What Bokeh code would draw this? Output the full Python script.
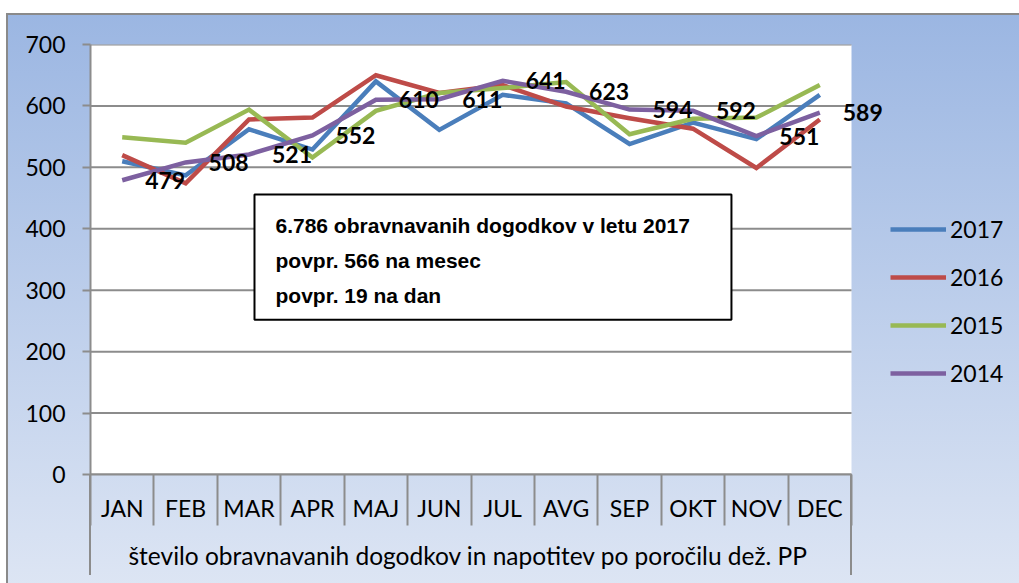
from bokeh.plotting import figure
from bokeh.models import (Range1d, FixedTicker, ColumnDataSource, LabelSet, Label,
                          BoxAnnotation, Legend, LegendItem, Title)
from bokeh.core.properties import value
from bokeh.embed import file_html
from bokeh.resources import INLINE

months = ["JAN", "FEB", "MAR", "APR", "MAJ", "JUN", "JUL", "AVG", "SEP", "OKT", "NOV", "DEC"]
y2017 = [510, 487, 562, 529, 640, 561, 618, 604, 538, 573, 546, 618]
y2016 = [520, 474, 578, 581, 650, 621, 634, 599, 580, 563, 499, 578]
y2015 = [549, 540, 594, 516, 592, 621, 629, 639, 554, 579, 581, 634]
y2014 = [479, 508, 521, 552, 610, 611, 641, 623, 594, 592, 551, 589]
series_names = ["2017", "2016", "2015", "2014"]
series_colors = ["#4a7ebb", "#be4b48", "#98b954", "#7d60a0"]
y_ticks = [0, 100, 200, 300, 400, 500, 600, 700]
group_label = "število obravnavanih dogodkov in napotitev po poročilu dež. PP"
box_lines = ["6.786 obravnavanih dogodkov v letu 2017",
             "povpr. 566 na mesec",
             "povpr. 19 na dan"]

xs = list(range(1, len(months) + 1))
x_lo, x_hi = 0.5, len(months) + 0.5
unit_px = 761 / len(months)

FONT = "Lato"
FS = "23px"

p = figure(frame_width=929, frame_height=430,
           x_range=Range1d(x_lo, x_lo + 929 / unit_px), y_range=Range1d(0, 700),
           output_backend="svg", toolbar_location=None,
           min_border_left=90, min_border_top=44, min_border_right=0, min_border_bottom=109)

p.background_fill_alpha = 0
p.border_fill_alpha = 0
p.outline_line_color = None
p.styles = {
    "background": (
        "linear-gradient(#8c8c8c,#8c8c8c) 89px 474px / 2px 101px no-repeat, "
        "linear-gradient(#8c8c8c,#8c8c8c) 850px 474px / 2px 101px no-repeat, "
        "linear-gradient(#8a8a8a,#8a8a8a) 6px 13px / 2px 100% no-repeat, "
        "linear-gradient(#8a8a8a,#8a8a8a) 6px 13px / 100% 2px no-repeat, "
        "linear-gradient(to bottom, #9bb6e2, #dee6f4) 6px 13px / 100% 100% no-repeat, "
        "#ffffff"
    )
}

# white plot area
p.add_layout(BoxAnnotation(left=x_lo, right=x_hi, bottom=0, top=700,
                           fill_color="white", fill_alpha=1, line_alpha=0,
                           level="underlay"))

# horizontal grid lines limited to the plot area
p.xgrid.visible = False
p.ygrid.visible = False
p.segment(x0=[x_lo] * len(y_ticks), x1=[x_hi] * len(y_ticks), y0=y_ticks, y1=y_ticks,
          line_color="#8c8c8c", line_width=2)

# axes
xa = p.xaxis[0]
xa.bounds = (x_lo, x_hi)
xa.ticker = FixedTicker(ticks=xs, minor_ticks=[x - 0.5 for x in xs] + [xs[-1] + 0.5])
xa.major_label_overrides = {x: m for x, m in zip(xs, months)}
xa.major_tick_line_color = None
xa.major_tick_out = 0
xa.major_tick_in = 0
xa.minor_tick_out = 51
xa.minor_tick_in = 0
xa.minor_tick_line_color = "#8c8c8c"
xa.minor_tick_line_width = 2
xa.axis_line_color = "#8c8c8c"
xa.axis_line_width = 2
xa.major_label_text_font = FONT
xa.major_label_text_font_size = FS
xa.major_label_text_color = "black"
xa.major_label_standoff = -32

# category group label, centred under the month band
p.add_layout(Title(text=group_label, align="left", offset=38, standoff=28,
                   vertical_align="bottom",
                   text_font=FONT, text_font_size="24.5px", text_font_style="normal",
                   text_color="black"), "below")

ya = p.yaxis[0]
ya.ticker = FixedTicker(ticks=y_ticks)
ya.major_tick_out = 8
ya.major_tick_in = 0
ya.major_tick_line_color = "#8c8c8c"
ya.major_tick_line_width = 2
ya.minor_tick_line_color = None
ya.axis_line_color = "#8c8c8c"
ya.axis_line_width = 2
ya.major_label_text_font = FONT
ya.major_label_text_font_size = FS
ya.major_label_text_color = "black"
ya.major_label_standoff = 17

# lines
renderers = []
for name, vals, col in zip(series_names, [y2017, y2016, y2015, y2014], series_colors):
    r = p.line(xs, vals, line_color=col, line_width=4.5, line_join="miter")
    renderers.append(r)

# data labels (2014 series), shifted right as in the original
src = ColumnDataSource(dict(x=xs, y=y2014, t=[str(v) for v in y2014]))
labels = LabelSet(x="x", y="y", text="t", source=src, x_offset=43,
                  text_align="center", text_baseline="middle",
                  text_font=value(FONT), text_font_style="bold", text_font_size=value(FS),
                  text_color="black")
p.add_layout(labels)

# text box
p.add_layout(BoxAnnotation(left=3.086, right=10.607, bottom=252, top=456,
                           fill_color="white", fill_alpha=1,
                           line_color="black", line_alpha=1, line_width=2))
for txt, ty in zip(box_lines, [405.3, 348.4, 291.4]):
    p.add_layout(Label(x=3.417, y=ty, text=txt,
                       text_font="Liberation Sans", text_font_style="bold",
                       text_font_size="21px", text_baseline="middle", text_align="left",
                       text_color="black"))

legend = Legend(items=[LegendItem(label=n, renderers=[r]) for n, r in zip(series_names, renderers)],
                location=(800, 87), glyph_width=56, glyph_height=28, label_height=28,
                spacing=20, padding=0, margin=0, label_standoff=4,
                border_line_color=None, background_fill_alpha=0,
                label_text_font=FONT, label_text_font_size=FS,
                label_text_color="black")
p.add_layout(legend)

open("out.html", "w").write(file_html(p, INLINE))
